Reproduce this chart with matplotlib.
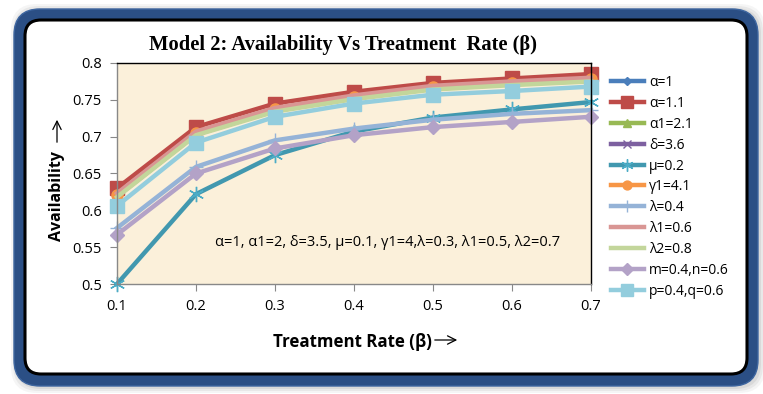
import numpy as np
import matplotlib.pyplot as plt
from matplotlib.patches import FancyBboxPatch, FancyArrowPatch

# treatment rate values (x axis)
beta = [0.1, 0.2, 0.3, 0.4, 0.5, 0.6, 0.7]

# availability for each parameter change
alpha_1 = [0.622, 0.706, 0.738, 0.755, 0.768, 0.774, 0.779]
alpha_11 = [0.630, 0.713, 0.745, 0.761, 0.773, 0.779, 0.785]
alpha1_21 = [0.619, 0.703, 0.735, 0.752, 0.765, 0.771, 0.776]
delta_36 = [0.620, 0.704, 0.736, 0.753, 0.766, 0.772, 0.777]
mu_02 = [0.500, 0.622, 0.675, 0.707, 0.726, 0.737, 0.747]
gamma1_41 = [0.621, 0.705, 0.737, 0.754, 0.767, 0.773, 0.778]
lam_04 = [0.576, 0.659, 0.695, 0.711, 0.723, 0.731, 0.736]
lam1_06 = [0.623, 0.707, 0.739, 0.756, 0.769, 0.775, 0.780]
lam2_08 = [0.618, 0.702, 0.734, 0.751, 0.764, 0.770, 0.775]
mn = [0.567, 0.650, 0.684, 0.702, 0.713, 0.720, 0.727]
pq = [0.606, 0.692, 0.727, 0.745, 0.757, 0.762, 0.768]

series = [
    ('α=1', alpha_1, '#4A7EBB', 'D', 5),
    ('α=1.1', alpha_11, '#BE4B48', 's', 10),
    ('α1=2.1', alpha1_21, '#98B954', '^', 7),
    ('δ=3.6', delta_36, '#7D60A0', 'x', 7),
    ('μ=0.2', mu_02, '#4198AF', '*', 0),
    ('γ1=4.1', gamma1_41, '#F79646', 'o', 8),
    ('λ=0.4', lam_04, '#95B3D7', '+', 10),
    ('λ1=0.6', lam1_06, '#D99694', None, 0),
    ('λ2=0.8', lam2_08, '#C3D69B', None, 0),
    ('m=0.4,n=0.6', mn, '#B3A2C7', 'D', 7.5),
    ('p=0.4,q=0.6', pq, '#93CDDD', 's', 10),
]

W, H = 763, 394
fig = plt.figure(figsize=(W / 100, H / 100), dpi=100)
fig.patch.set_facecolor('white')

# ---- frame: shadow, blue border, white card ----
for i, a in enumerate([0.05, 0.07, 0.09]):
    g = 6 - 2 * i
    fig.patches.append(FancyBboxPatch((14 - g + 3, 394 - 386 - g - 1), 744 + 2 * g - 2, 377 + 2 * g,
                                      boxstyle='round,pad=0,rounding_size=26', transform=None,
                                      facecolor='#444444', edgecolor='none', alpha=a, zorder=0))
fig.patches.append(FancyBboxPatch((14, 394 - 386), 744, 377,
                                  boxstyle='round,pad=0,rounding_size=26', transform=None,
                                  facecolor='#2B4F85', edgecolor='#3E66A0', lw=1, zorder=1))
fig.patches.append(FancyBboxPatch((25, 394 - 374), 722, 354,
                                  boxstyle='round,pad=0,rounding_size=16', transform=None,
                                  facecolor='white', edgecolor='black', lw=2.2, zorder=2))

ax = fig.add_axes([117 / W, 110 / H, 474 / W, 221 / H])
ax.set_zorder(3)
ax.set_facecolor('#FBF0DA')

for name, vals, col, mk, ms in series:
    if mk == '*':
        ax.plot(beta, vals, color=col, lw=3.2, marker=(6, 2, 0), ms=11, mec='#4BACC6', mew=1,
                label=name, clip_on=False)
    elif mk in ('x', '+'):
        ax.plot(beta, vals, color=col, lw=3.2, marker=mk, ms=ms, mec=col, mew=1, label=name, clip_on=False)
    elif mk is None:
        ax.plot(beta, vals, color=col, lw=3.2, label=name, clip_on=False)
    else:
        ax.plot(beta, vals, color=col, lw=3.2, marker=mk, ms=ms, mec=col, label=name, clip_on=False)

ax.set_xlim(0.1, 0.7)
ax.set_ylim(0.5, 0.8)
ax.set_xticks(beta)
ax.set_xticklabels(['0.1', '0.2', '0.3', '0.4', '0.5', '0.6', '0.7'])
ax.set_yticks([0.5, 0.55, 0.6, 0.65, 0.7, 0.75, 0.8])
ax.set_yticklabels(['0.5', '0.55', '0.6', '0.65', '0.7', '0.75', '0.8'])
for lab in ax.get_xticklabels() + ax.get_yticklabels():
    lab.set_fontfamily('Open Sans')
    lab.set_fontsize(10.5)
ax.tick_params(axis='both', direction='out', length=5, color='#888888', pad=6)
ax.spines['left'].set_color('#888888')
ax.spines['bottom'].set_color('#888888')
ax.spines['top'].set_color('black')
ax.spines['right'].set_color('black')
for s in ax.spines.values():
    s.set_linewidth(1)

ax.text(0.57, 0.19, 'α=1, α1=2, δ=3.5, μ=0.1, γ1=4,λ=0.3, λ1=0.5, λ2=0.7',
        transform=ax.transAxes, ha='center', va='center', fontsize=10.5, family='Open Sans')

leg = ax.legend(loc='upper left', bbox_to_anchor=(1.03, 0.97), frameon=False,
                prop={'family': 'Open Sans', 'size': 10}, handlelength=2.4,
                handletextpad=0.35, labelspacing=0.42, borderaxespad=0, markerscale=0.8)

fig.text(343 / W, 1 - 45 / H, 'Model 2: Availability Vs Treatment  Rate (β)', ha='center', va='center',
         fontsize=14.8, fontweight='bold', family='Liberation Serif', zorder=5)
fig.text(352 / W, 1 - 342 / H, 'Treatment Rate (β)', ha='center', va='center',
         fontsize=12.2, fontweight='bold', family='Open Sans', zorder=5)
fig.text(57 / W, 1 - 196 / H, 'Availability', ha='center', va='center', rotation=90,
         fontsize=11.5, fontweight='bold', family='Open Sans', zorder=5)
fig.patches.append(FancyArrowPatch((432, 394 - 340), (460, 394 - 340), transform=None,
                                   arrowstyle='->,head_length=6,head_width=3',
                                   color='black', lw=0.9, zorder=5))
fig.patches.append(FancyArrowPatch((57, 394 - 145), (57, 394 - 117), transform=None,
                                   arrowstyle='->,head_length=6,head_width=3',
                                   color='black', lw=0.9, zorder=5))

fig.savefig('out.png', dpi=100)
